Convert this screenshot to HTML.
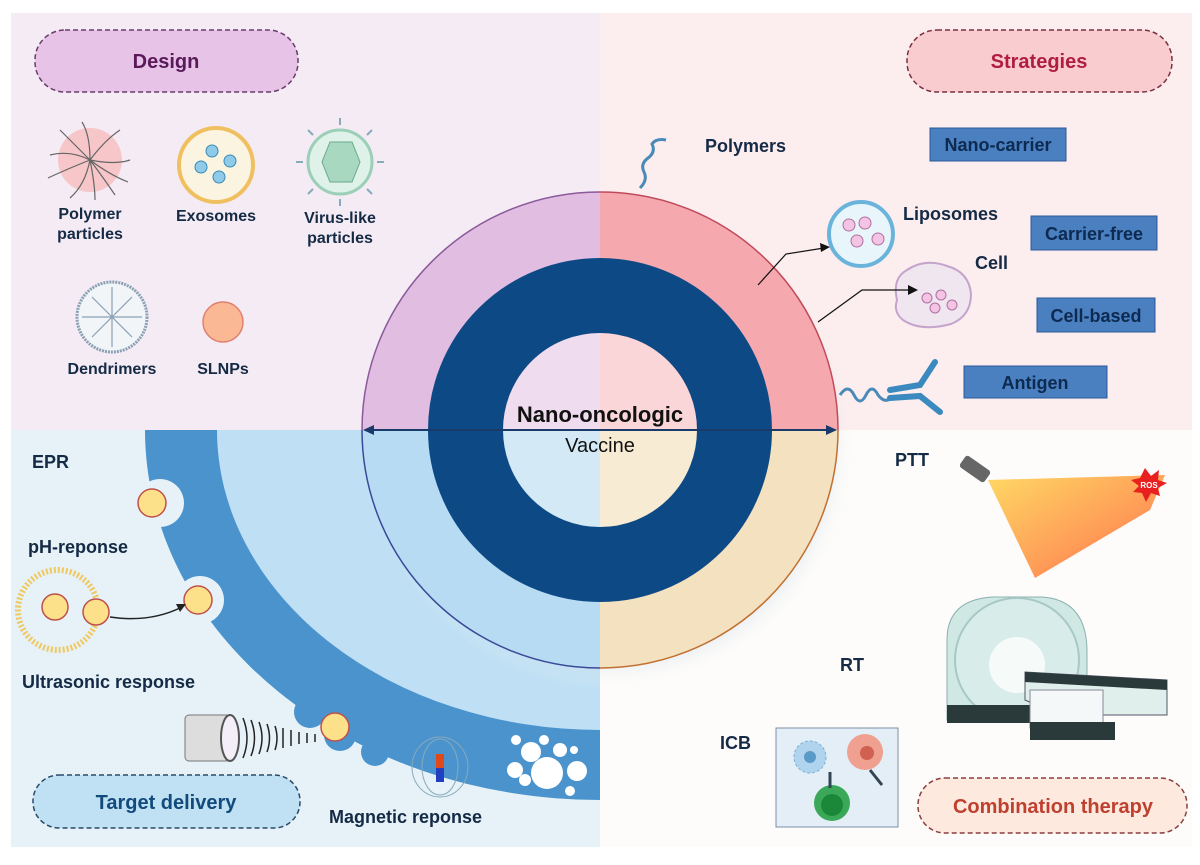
<!DOCTYPE html>
<html><head><meta charset="utf-8"><style>
html,body{margin:0;padding:0;background:#fff;}
svg{display:block;}
text{font-family:"Liberation Sans",Arial,sans-serif;}
</style></head><body>
<svg width="1200" height="865" viewBox="0 0 1200 865" xmlns="http://www.w3.org/2000/svg">
<defs>
<clipPath id="tl"><rect x="0" y="0" width="600" height="430"/></clipPath>
<clipPath id="tr"><rect x="600" y="0" width="600" height="430"/></clipPath>
<clipPath id="bl"><rect x="0" y="430" width="600" height="417"/></clipPath>
<clipPath id="br"><rect x="600" y="430" width="600" height="435"/></clipPath>
<radialGradient id="shadow" cx="0.5" cy="0.5" r="0.5"><stop offset="0.8" stop-color="#9fb3c8" stop-opacity="0.6"/><stop offset="1" stop-color="#fff" stop-opacity="0"/></radialGradient>
<linearGradient id="beam" x1="0" y1="0" x2="1" y2="1"><stop offset="0" stop-color="#ffd24a"/><stop offset="0.6" stop-color="#ff8a3a"/><stop offset="1" stop-color="#ff2a2a"/></linearGradient>
</defs>
<rect x="11" y="13" width="589" height="417" fill="#f4ebf4"/>
<rect x="600" y="13" width="592" height="417" fill="#fcedee"/>
<rect x="11" y="430" width="589" height="417" fill="#e6f2f8"/>
<rect x="600" y="430" width="592" height="417" fill="#fdfcfa"/>

<g clip-path="url(#bl)">
<ellipse cx="600" cy="430" rx="455" ry="370" fill="#4a93cc"/>
<circle cx="310" cy="712" r="16" fill="#4a93cc"/>
<circle cx="340" cy="735" r="16" fill="#4a93cc"/>
<circle cx="375" cy="752" r="14" fill="#4a93cc"/>
<ellipse cx="600" cy="430" rx="383" ry="300" fill="#bfe0f4"/>
<circle cx="160" cy="503" r="24" fill="#e6f2f8"/>
<circle cx="200" cy="600" r="24" fill="#e6f2f8"/>
</g>
<circle cx="152" cy="503" r="14" fill="#fde08a" stroke="#c0504a" stroke-width="1.5"/>
<circle cx="198" cy="600" r="14" fill="#fde08a" stroke="#c0504a" stroke-width="1.5"/>
<circle cx="335" cy="727" r="14" fill="#fde08a" stroke="#c0504a" stroke-width="1.5"/>
<g fill="#fff">
<circle cx="547" cy="773" r="16"/><circle cx="531" cy="752" r="10"/><circle cx="515" cy="770" r="8"/><circle cx="525" cy="780" r="6"/><circle cx="544" cy="740" r="5"/><circle cx="560" cy="750" r="7"/><circle cx="577" cy="771" r="10"/><circle cx="570" cy="791" r="5"/><circle cx="516" cy="740" r="5"/><circle cx="574" cy="750" r="4"/>
</g>

<circle cx="612" cy="445" r="245" fill="url(#shadow)"/>

<g clip-path="url(#tl)"><circle cx="600" cy="430" r="238" fill="#e2bde2" stroke="#8a5a9a" stroke-width="1.5"/><circle cx="600" cy="430" r="97" fill="#f0dcef"/></g>
<g clip-path="url(#tr)"><circle cx="600" cy="430" r="238" fill="#f5a8ae" stroke="#c04a5a" stroke-width="1.5"/><circle cx="600" cy="430" r="97" fill="#fbd6d9"/></g>
<g clip-path="url(#bl)"><circle cx="600" cy="430" r="238" fill="#b7dbf2" stroke="#3a4a9a" stroke-width="1.5"/><circle cx="600" cy="430" r="97" fill="#d3e9f6"/></g>
<g clip-path="url(#br)"><circle cx="600" cy="430" r="238" fill="#f4e1bf" stroke="#c07030" stroke-width="1.5"/><circle cx="600" cy="430" r="97" fill="#f8ebd4"/></g>
<circle cx="600" cy="430" r="134.5" fill="none" stroke="#0d4a85" stroke-width="75"/>

<line x1="368" y1="430" x2="832" y2="430" stroke="#1a3a6a" stroke-width="2"/>
<polygon points="363,430 374,425 374,435" fill="#1a3a6a"/>
<polygon points="837,430 826,425 826,435" fill="#1a3a6a"/>
<text x="600" y="422" text-anchor="middle" font-size="22" font-weight="bold" fill="#111">Nano-oncologic</text>
<text x="600" y="452" text-anchor="middle" font-size="20" fill="#111">Vaccine</text>

<rect x="35" y="30" width="263" height="62" rx="30" fill="#e7c4e7" stroke="#6a3b6a" stroke-width="1.5" stroke-dasharray="5,3"/>
<text x="166" y="68" text-anchor="middle" font-size="20" font-weight="bold" fill="#5a1a5a">Design</text>
<rect x="907" y="30" width="265" height="62" rx="30" fill="#f9cdd0" stroke="#7a3040" stroke-width="1.5" stroke-dasharray="5,3"/>
<text x="1039" y="68" text-anchor="middle" font-size="20" font-weight="bold" fill="#b01d40">Strategies</text>
<rect x="33" y="775" width="267" height="53" rx="26" fill="#bfe1f3" stroke="#2a4a6a" stroke-width="1.5" stroke-dasharray="5,3"/>
<text x="166" y="809" text-anchor="middle" font-size="20" font-weight="bold" fill="#134a7c">Target delivery</text>
<rect x="918" y="778" width="269" height="55" rx="27" fill="#fde9de" stroke="#8a4040" stroke-width="1.5" stroke-dasharray="5,3"/>
<text x="1053" y="813" text-anchor="middle" font-size="20" font-weight="bold" fill="#c04030">Combination therapy</text>

<!-- design icons -->
<circle cx="90" cy="160" r="32" fill="#f6c6c8"/>
<g stroke="#666" stroke-width="1.2" fill="none">
<path d="M90 160 q-20 -10 -40 -5 M90 160 q15 -20 30 -30 M90 160 q25 5 40 0 M90 160 q-5 25 -20 38 M90 160 q15 20 25 35 M90 160 q-25 10 -42 18 M90 160 q0 -25 -8 -38 M90 160 q5 25 5 40 M90 160 q-20 -20 -30 -30 M90 160 q20 15 38 22"/>
</g>
<circle cx="216" cy="165" r="37" fill="#fbf4e0" stroke="#f0c060" stroke-width="4"/>
<circle cx="212" cy="151" r="6" fill="#8fcbe8" stroke="#3a8ab8"/><circle cx="230" cy="161" r="6" fill="#8fcbe8" stroke="#3a8ab8"/><circle cx="201" cy="167" r="6" fill="#8fcbe8" stroke="#3a8ab8"/><circle cx="219" cy="177" r="6" fill="#8fcbe8" stroke="#3a8ab8"/>
<circle cx="340" cy="162" r="32" fill="#dff2ea" stroke="#9ccfb8" stroke-width="3"/>
<polygon points="330,142 352,142 360,162 352,182 330,182 322,162" fill="#a8d8c0" stroke="#6aa88c"/>
<g stroke="#8ab" stroke-width="2"><line x1="340" y1="125" x2="340" y2="118"/><line x1="340" y1="199" x2="340" y2="206"/><line x1="303" y1="162" x2="296" y2="162"/><line x1="377" y1="162" x2="384" y2="162"/><line x1="313" y1="135" x2="308" y2="130"/><line x1="367" y1="135" x2="372" y2="130"/><line x1="313" y1="189" x2="308" y2="194"/><line x1="367" y1="189" x2="372" y2="194"/></g>
<circle cx="112" cy="317" r="35" fill="#f2f5f8" stroke="#8aa0b4" stroke-width="3" stroke-dasharray="2,1"/>
<g stroke="#8aa0b4" stroke-width="1.2" fill="none"><path d="M112 287 V347 M82 317 H142 M112 317 L92 297 M112 317 L132 297 M112 317 L92 337 M112 317 L132 337"/></g>
<circle cx="223" cy="322" r="20" fill="#fbb894" stroke="#e08070" stroke-width="1.5"/>
<g font-size="16" font-weight="bold" fill="#152a45" text-anchor="middle">
<text x="90" y="219">Polymer</text><text x="90" y="239">particles</text>
<text x="216" y="221">Exosomes</text>
<text x="340" y="223">Virus-like</text><text x="340" y="243">particles</text>
<text x="112" y="374">Dendrimers</text>
<text x="223" y="374">SLNPs</text>
</g>

<!-- strategies -->
<path d="M640 188 q8 -8 4 -16 q-4 -8 4 -14 q8 -6 4 -14 q4 -6 14 -4" stroke="#4a8ab8" stroke-width="3" fill="none"/>
<text x="705" y="152" font-size="18" font-weight="bold" fill="#152a45">Polymers</text>
<circle cx="861" cy="234" r="32" fill="#e8f6fb" stroke="#6ab4dc" stroke-width="4"/>
<circle cx="849" cy="225" r="6" fill="#f4c4e4" stroke="#b070a0"/><circle cx="865" cy="223" r="6" fill="#f4c4e4" stroke="#b070a0"/><circle cx="857" cy="241" r="6" fill="#f4c4e4" stroke="#b070a0"/><circle cx="878" cy="239" r="6" fill="#f4c4e4" stroke="#b070a0"/>
<text x="903" y="220" font-size="18" font-weight="bold" fill="#152a45">Liposomes</text>
<path d="M897 300 q-5 -22 10 -30 q18 -12 40 -4 q22 6 24 28 q0 22 -20 30 q-30 8 -48 -4 q-10 -8 -6 -20 z" fill="#f0e6ef" stroke="#c4a4cc" stroke-width="2"/>
<circle cx="927" cy="298" r="5" fill="#f4c4e4" stroke="#b070a0"/><circle cx="941" cy="295" r="5" fill="#f4c4e4" stroke="#b070a0"/><circle cx="935" cy="308" r="5" fill="#f4c4e4" stroke="#b070a0"/><circle cx="952" cy="305" r="5" fill="#f4c4e4" stroke="#b070a0"/>
<text x="975" y="269" font-size="18" font-weight="bold" fill="#152a45">Cell</text>
<g stroke="#111" stroke-width="1.2" fill="none"><polyline points="758,285 786,254 824,248"/><polyline points="818,322 862,290 912,290"/></g>
<polygon points="830,247 820,243 821,252" fill="#111"/><polygon points="918,290 908,285 908,295" fill="#111"/>
<path d="M840 395 q8 -12 14 0 q6 12 12 0 q6 -12 12 0 q6 8 12 4" stroke="#4a8ab8" stroke-width="3" fill="none"/>
<g stroke="#3a8ac0" stroke-width="6" stroke-linecap="round" fill="none"><polyline points="890,390 920,385 935,362"/><polyline points="890,398 920,396 940,412"/></g>
<g fill="#4a7fc0" stroke="#2a5a9a" stroke-width="1"><rect x="930" y="128" width="136" height="33"/><rect x="1031" y="216" width="126" height="34"/><rect x="1037" y="298" width="118" height="34"/><rect x="964" y="366" width="143" height="32"/></g>
<g font-size="18" font-weight="bold" fill="#0d2a50" text-anchor="middle">
<text x="998" y="151">Nano-carrier</text><text x="1094" y="240">Carrier-free</text><text x="1096" y="322">Cell-based</text><text x="1035" y="389">Antigen</text>
</g>

<!-- target delivery labels -->
<g font-size="18" font-weight="bold" fill="#152a45">
<text x="32" y="468">EPR</text>
<text x="28" y="553">pH-reponse</text>
<text x="22" y="688">Ultrasonic response</text>
<text x="329" y="823">Magnetic reponse</text>
</g>
<circle cx="58" cy="610" r="40" fill="none" stroke="#f0c860" stroke-width="6" stroke-dasharray="2,2"/>
<circle cx="55" cy="607" r="13" fill="#fde08a" stroke="#c0504a" stroke-width="1.5"/>
<circle cx="96" cy="612" r="13" fill="#fde08a" stroke="#c0504a" stroke-width="1.5"/>
<path d="M110 617 q40 6 72 -10" stroke="#222" stroke-width="1.5" fill="none"/><polygon points="186,604 176,604 180,612" fill="#222"/>
<rect x="185" y="715" width="45" height="46" rx="4" fill="#ddd" stroke="#777"/>
<ellipse cx="230" cy="738" rx="9" ry="23" fill="#f4eef8" stroke="#555" stroke-width="2"/>
<g stroke="#222" stroke-width="1.5" fill="none"><path d="M243 718 q8 20 0 40 M251 720 q7 18 0 36 M259 722 q6 16 0 32 M267 724 q5 14 0 28 M275 726 q4 12 0 24 M283 728 v20 M291 730 v16 M299 732 v12 M307 733 v10 M315 734 v8"/></g>
<g stroke="#8ab" stroke-width="1" fill="none"><ellipse cx="440" cy="767" rx="28" ry="30"/><ellipse cx="440" cy="767" rx="18" ry="28"/></g>
<rect x="436" y="754" width="8" height="28" fill="#e04a1a"/><rect x="436" y="768" width="8" height="14" fill="#2040c0"/>

<!-- combination therapy -->
<g font-size="18" font-weight="bold" fill="#152a45">
<text x="895" y="466">PTT</text><text x="840" y="671">RT</text><text x="720" y="749">ICB</text>
</g>
<polygon points="988,480 1165,475 1150,510 1035,578" fill="url(#beam)" opacity="0.85"/>
<rect x="960" y="462" width="30" height="14" rx="3" fill="#666" transform="rotate(35 975 469)"/>
<polygon points="1140,478 1145,468 1151,476 1159,470 1158,480 1167,483 1158,488 1160,496 1151,493 1146,502 1142,493 1133,492 1139,486 1131,480" fill="#e82020"/>
<text x="1149" y="488" font-size="8" font-weight="bold" fill="#fff" text-anchor="middle">ROS</text>
<!-- RT machine -->
<path d="M947 720 V640 q0 -40 45 -43 h50 q45 3 45 55 v60 z" fill="#cfe8e4" stroke="#8ab0b0"/>
<circle cx="1017" cy="660" r="62" fill="#d8ecea" stroke="#a8c8c6" stroke-width="2"/>
<circle cx="1017" cy="665" r="28" fill="#f6fbfa"/>
<rect x="947" y="705" width="88" height="18" fill="#2a3a3a"/>
<polygon points="1025,672 1167,680 1167,715 1060,715 1025,700" fill="#e0eeec" stroke="#556"/>
<polygon points="1025,672 1167,680 1167,690 1025,682" fill="#2a3a3a"/>
<rect x="1030" y="690" width="73" height="38" fill="#f4f8f8" stroke="#889"/>
<rect x="1030" y="722" width="85" height="18" fill="#2a3a3a"/>
<!-- ICB box -->
<rect x="776" y="728" width="122" height="99" fill="#e4eef6" stroke="#7a90a8"/>
<circle cx="810" cy="757" r="16" fill="#b0d4ee" stroke="#7ab0d8" stroke-dasharray="3,2"/>
<circle cx="810" cy="757" r="6" fill="#5a9ac8"/>
<circle cx="865" cy="752" r="18" fill="#f0a090"/>
<circle cx="867" cy="753" r="7" fill="#d06050"/>
<circle cx="832" cy="803" r="18" fill="#3aa858"/>
<circle cx="832" cy="805" r="11" fill="#1a8838"/>
<line x1="830" y1="772" x2="830" y2="788" stroke="#345" stroke-width="3"/>
<line x1="870" y1="770" x2="882" y2="785" stroke="#345" stroke-width="3"/>
</svg>
</body></html>
